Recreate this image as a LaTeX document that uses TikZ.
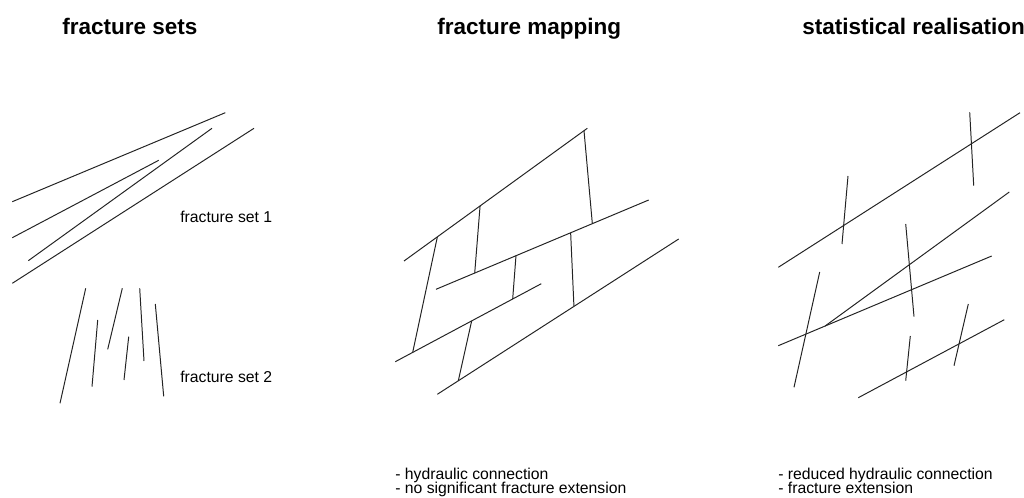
\documentclass[tikz,border=0pt]{standalone}
\usepackage{fontspec}
\setmainfont{Liberation Sans}
\usetikzlibrary{calc,positioning}
\definecolor{fracgray}{RGB}{35,35,35}
\tikzset{
  frac/.style={draw=fracgray,line width=0.7pt},
  titletext/.style={font=\fontsize{16}{18}\selectfont\bfseries,anchor=base west,inner sep=0pt},
  settext/.style={font=\fontsize{11.2}{13}\selectfont,anchor=base west,inner sep=0pt},
  notetext/.style={settext}
}

\begin{document}
\begin{tikzpicture}[x=0.025cm,y=-0.025cm]
  \useasboundingbox (0,0) rectangle (1024,498);

  % titles
  \node[titletext] (settitle) at (62,35) {fracture sets};
  \node[titletext] (maptitle) at (437,35) {fracture mapping};
  \node[titletext] (stattitle) at (802,35) {statistical realisation};

  % fracture sets
  \draw[frac] (12.3,201.7) -- (225.3,112.7);
  \draw[frac] (12.3,237.7) -- (158.7,160.3);
  \draw[frac] (28.3,260.7) -- (212,128.3);
  \draw[frac] (12.3,283.3) -- (254,128.3);
  \node[settext] (set1) at (180,222.5) {fracture set 1};

  \draw[frac] (85.7,288.3) -- (60,403.3);
  \draw[frac] (97.7,320) -- (92,386.7);
  \draw[frac] (122.3,288.3) -- (107.7,349.3);
  \draw[frac] (128.7,336.7) -- (124,380);
  \draw[frac] (139.7,288.3) -- (144,361);
  \draw[frac] (155.3,304) -- (163.7,396.3);
  \node[settext] (set2) at (180,382.5) {fracture set 2};

  % fracture mapping
  \coordinate (m1s) at (404,261);    \coordinate (m1e) at (587.3,128.3);
  \coordinate (m2s) at (436,289.3);  \coordinate (m2e) at (648.7,200);
  \coordinate (m3s) at (395.3,361.7); \coordinate (m3e) at (541.3,283.7);
  \coordinate (m4s) at (437.3,394.3); \coordinate (m4e) at (678.7,239);
  \draw[frac] (m1s) -- (m1e);
  \draw[frac] (m2s) -- (m2e);
  \draw[frac] (m3s) -- (m3e);
  \draw[frac] (m4s) -- (m4e);
  \draw[frac] ($(m1s)!0.982!(m1e)$) -- ($(m2s)!0.735!(m2e)$);
  \draw[frac] ($(m1s)!0.415!(m1e)$) -- ($(m2s)!0.182!(m2e)$);
  \draw[frac] ($(m1s)!0.182!(m1e)$) -- ($(m3s)!0.119!(m3e)$);
  \draw[frac] ($(m2s)!0.376!(m2e)$) -- ($(m3s)!0.804!(m3e)$);
  \draw[frac] ($(m2s)!0.633!(m2e)$) -- ($(m4s)!0.566!(m4e)$);
  \draw[frac] ($(m3s)!0.523!(m3e)$) -- ($(m4s)!0.087!(m4e)$);
  \node[notetext] (mapnote1) at (395,479) {- hydraulic connection};
  \node[notetext] (mapnote2) at (395,493) {- no significant fracture extension};

  % statistical realisation
  \coordinate (s2s) at (778.3,345.7); \coordinate (s2e) at (991.7,256);
  \draw[frac] (778.3,267.3) -- (1020,112.7);
  \draw[frac] (969.7,112.3) -- (973.7,185.7);
  \draw[frac] (848,176) -- (842,244);
  \draw[frac] (s2s) -- (s2e);
  \draw[frac] ($(s2s)!0.219!(s2e)$) -- (1009.3,192);
  \draw[frac] (905.7,224) -- (914,316.7);
  \draw[frac] (819.7,272) -- (794,387.3);
  \draw[frac] (858.3,397.7) -- (1004.3,319.7);
  \draw[frac] (910.3,336) -- (905.7,380.7);
  \draw[frac] (968.3,304) -- (954,365.7);
  \node[notetext] (statnote1) at (778,479) {- reduced hydraulic connection};
  \node[notetext] (statnote2) at (778,493) {- fracture extension};
\end{tikzpicture}
\end{document}
